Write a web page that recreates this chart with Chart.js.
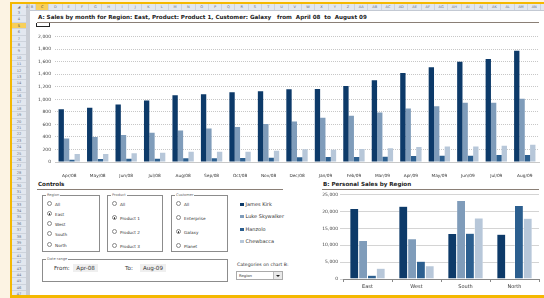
<!DOCTYPE html>
<html><head><meta charset="utf-8">
<script src="https://cdn.jsdelivr.net/npm/chart.js@4/dist/chart.umd.min.js"></script>
<style>
html,body{margin:0;padding:0;}
body{width:544px;height:298px;background:#fcf3e3;position:relative;overflow:hidden;font-family:"DejaVu Sans",sans-serif;}
.abs{position:absolute;}
#sheet{left:12px;top:4px;width:532px;height:292px;background:#fff;}
#topline{left:10px;top:2px;width:534px;height:2px;background:#f4b800;}
#leftline{left:10px;top:2px;width:2px;height:296px;background:#f4b800;}
#botline{left:10px;top:295px;width:534px;height:3px;background:#f4b800;}
#colhdr{left:12px;top:4px;width:532px;height:6px;background:#e2e7ef;border-bottom:1px solid #c3c9d3;}
#rowhdr{left:12px;top:4px;width:14px;height:291px;background:#e2e7ef;}
#strip{left:26px;top:4px;width:4px;height:291px;background:#c9cdd4;}
.col{position:absolute;top:4px;height:6px;font-size:3.6px;line-height:6px;color:#6b7380;text-align:center;border-right:1px solid #cdd3dc;box-sizing:border-box;}
.row{position:absolute;left:12px;width:14px;font-size:3.6px;color:#6b7380;text-align:center;border-bottom:1px solid #cdd3dc;box-sizing:border-box;}
.hl{background:#f7cf5a;color:#444;}
.title{font-weight:bold;font-size:5.6px;color:#222;white-space:pre;}
.rule{height:1px;background:#8a7f76;}
.box{border:1px solid #8c8c8c;box-sizing:border-box;}
.glabel{font-size:3.6px;color:#666;background:#fff;padding:0 1px;white-space:nowrap;}
.opt{font-size:4.2px;color:#333;white-space:nowrap;line-height:5px;}
.rad{display:inline-block;width:3px;height:3px;border:0.6px solid #888;border-radius:50%;vertical-align:middle;margin-right:3px;position:relative;top:-0.5px;background:#fff;}
.rad.on::after{content:"";position:absolute;left:0.7px;top:0.7px;width:1.6px;height:1.6px;border-radius:50%;background:#222;}
.leg{font-size:5px;color:#333;white-space:nowrap;line-height:6px;}
.sq{display:inline-block;width:3.5px;height:3px;margin-right:2px;vertical-align:middle;position:relative;top:-0.5px;}
.dt{font-size:5.6px;color:#333;white-space:nowrap;}
.dtv{background:#efefef;padding:1px 3px;}
</style></head>
<body>
<div class="abs" id="sheet"></div>
<div class="abs" id="colhdr"></div>
<div class="abs" id="rowhdr"></div>
<div class="abs" id="strip"></div>
<div id="cols"></div>
<div id="rows"></div>
<div class="abs" id="topline"></div>
<div class="abs" id="leftline"></div>

<div class="abs title" style="left:38px;top:14px;">A: Sales by month for Region: East, Product: Product 1, Customer: Galaxy   from  April 08  to  August 09</div>
<div class="abs rule" style="left:37px;top:22px;width:502px;"></div>
<div class="abs" style="left:36px;top:23px;width:14px;height:4px;border:1px solid #222;border-top:none;box-sizing:border-box;"></div>

<div class="abs title" style="left:38px;top:181px;">Controls</div>
<div class="abs rule" style="left:37px;top:189px;width:246px;"></div>
<div class="abs title" style="left:323px;top:181px;">B: Personal Sales by Region</div>
<div class="abs rule" style="left:322px;top:189px;width:217px;"></div>

<!-- Region group -->
<div class="abs box" style="left:42px;top:195px;width:58px;height:57px;"></div>
<div class="abs glabel" style="left:46px;top:192.5px;">Region</div>
<div class="abs opt" style="left:47px;top:201.5px;"><span class="rad"></span>All</div>
<div class="abs opt" style="left:47px;top:211.5px;"><span class="rad on"></span>East</div>
<div class="abs opt" style="left:47px;top:221.5px;"><span class="rad"></span>West</div>
<div class="abs opt" style="left:47px;top:231.5px;"><span class="rad"></span>South</div>
<div class="abs opt" style="left:47px;top:242.5px;"><span class="rad"></span>North</div>
<!-- Product group -->
<div class="abs box" style="left:107px;top:195px;width:56px;height:57px;"></div>
<div class="abs glabel" style="left:111px;top:192.5px;">Product</div>
<div class="abs opt" style="left:112px;top:201.5px;"><span class="rad"></span>All</div>
<div class="abs opt" style="left:112px;top:215.5px;"><span class="rad on"></span>Product 1</div>
<div class="abs opt" style="left:112px;top:229.5px;"><span class="rad"></span>Product 2</div>
<div class="abs opt" style="left:112px;top:243.5px;"><span class="rad"></span>Product 3</div>
<!-- Customer group -->
<div class="abs box" style="left:171px;top:195px;width:57px;height:57px;"></div>
<div class="abs glabel" style="left:175px;top:192.5px;">Customer</div>
<div class="abs opt" style="left:176px;top:201.5px;"><span class="rad"></span>All</div>
<div class="abs opt" style="left:176px;top:215.5px;"><span class="rad"></span>Enterprise</div>
<div class="abs opt" style="left:176px;top:229.5px;"><span class="rad on"></span>Galaxy</div>
<div class="abs opt" style="left:176px;top:243.5px;"><span class="rad"></span>Planet</div>

<!-- Legend -->
<div id="legend"></div>

<!-- Date range -->
<div class="abs box" style="left:42px;top:259px;width:186px;height:23px;"></div>
<div class="abs glabel" style="left:46px;top:256.5px;">Date range</div>
<div class="abs dt" style="left:54px;top:265px;">From:&nbsp;&nbsp;<span class="dtv">Apr-08</span></div>
<div class="abs dt" style="left:125px;top:265px;">To:&nbsp;&nbsp;&nbsp;&nbsp;<span class="dtv">Aug-09</span></div>

<div class="abs" style="left:237px;top:262px;font-size:4.6px;color:#333;white-space:nowrap;">Categories on chart B:</div>
<div class="abs" style="left:236px;top:271px;width:47px;height:9px;border:1px solid #aaa;box-sizing:border-box;background:#fff;"></div>
<div class="abs" style="left:239px;top:273px;font-size:3.8px;color:#333;">Region</div>
<div class="abs" style="left:273px;top:272px;width:9px;height:7px;background:#e9e9e9;border-left:1px solid #bbb;box-sizing:border-box;"></div>
<div class="abs" style="left:275.5px;top:274.5px;width:0;height:0;border-left:2px solid transparent;border-right:2px solid transparent;border-top:2px solid #222;"></div>

<canvas id="chartA" class="abs" style="left:20px;top:30px;"></canvas>
<canvas id="chartB" class="abs" style="left:308px;top:190px;"></canvas>
<div class="abs" id="botline"></div>

<script>
// ---- data ----
const months = ['Apr/08','May/08','Jun/08','Jul/08','Aug/08','Sep/08','Oct/08','Nov/08','Dec/08','Jan/09','Feb/09','Mar/09','Apr/09','May/09','Jun/09','Jul/09','Aug/09'];
const jamesKirk = [843,865,918,981,1066,1082,1114,1130,1162,1167,1215,1305,1422,1512,1602,1645,1777];
const lukeSkywalker = [377,398,430,467,504,536,557,605,647,706,737,790,854,891,944,944,1008];
const hanzolo = [37,48,53,53,58,58,64,69,74,80,80,85,95,101,101,111,111];
const chewbacca = [127,127,138,149,164,164,164,180,202,196,207,218,239,249,249,260,276];

const regions = ['East','West','South','North'];
const kirkByRegion = [20900,21600,13500,13300];
const lukeByRegion = [11400,11900,23300,200];
const hanzoloByRegion = [1100,5300,13600,21800];
const chewbaccaByRegion = [3200,3900,18100,18000];

const people = ['James Kirk','Luke Skywalker','Hanzolo','Chewbacca'];
const colors = ['#0d3a69','#7f9cba','#2c5f8f','#b7c7d9'];

// ---- spreadsheet chrome ----
const letters = ['C','D','E','F','G','H','I','J','K','L','M','N','O','P','Q','R','S','T','U','V','W','X','Y','Z','AA','AB','AC','AD','AE','AF','AG','AH','AI','AJ','AK','AL','AM','AN'];
let ch = '<div class="col" style="left:12px;width:14px;border:none;">&#9698;</div><div class="col" style="left:26px;width:3px;">A</div><div class="col" style="left:29px;width:7px;">B</div>';
letters.forEach((l,i)=>{ch += `<div class="col${i===0?' hl':''}" style="left:${(36+i*13.3).toFixed(1)}px;width:13.3px;">${l}</div>`;});
document.getElementById('cols').innerHTML = ch;
let rh='';
for(let r=3;r<=47;r++){const t=10+(r-3)*6.39;rh+=`<div class="row${r===5?' hl':''}" style="top:${t.toFixed(2)}px;height:6.39px;line-height:6.39px;">${r}</div>`;}
document.getElementById('rows').innerHTML = rh;
const legTops=[201,213,226,238];
document.getElementById('legend').innerHTML = people.map((p,i)=>`<div class="abs leg" style="left:240px;top:${legTops[i]}px;"><span class="sq" style="background:${colors[i]}"></span>${p}</div>`).join('');

// ---- charts ----
Chart.defaults.font.family = 'DejaVu Sans';
Chart.defaults.animation = false;
const fmt = v => v.toLocaleString('en-US');

function ds(labels, arrs, bw, cp){
  return {labels, datasets: arrs.map((a,i)=>({label:people[i],data:a,backgroundColor:colors[i],borderColor:'#ffffff',borderWidth:bw,barPercentage:1,categoryPercentage:cp}))};
}

const cA = document.getElementById('chartA');
cA.width=522; cA.height=148; cA.style.width='522px'; cA.style.height='148px';
new Chart(cA,{type:'bar',data:ds(months,[jamesKirk,lukeSkywalker,hanzolo,chewbacca],0,0.75),
 options:{responsive:false,devicePixelRatio:1,animation:false,
  layout:{padding:{top:3,right:3,left:0,bottom:0}},
  plugins:{legend:{display:false},tooltip:{enabled:false}},
  scales:{
   x:{grid:{display:false},border:{display:true,color:'#c8c8c8',width:1},
      ticks:{font:{size:4.3},color:'#333',padding:3,maxRotation:0,autoSkip:false},
      afterFit:s=>{s.height=16;}},
   y:{min:0,max:2000,ticks:{stepSize:200,font:{size:4.5},color:'#444',padding:4,callback:v=>fmt(v)},
      grid:{color:'#b9b9b9',lineWidth:0.8,drawTicks:false},border:{display:false,dash:[1,1]},
      afterFit:s=>{s.width=35;}}
  }}});

const cB = document.getElementById('chartB');
cB.width=234; cB.height=105; cB.style.width='234px'; cB.style.height='105px';
new Chart(cB,{type:'bar',data:ds(regions,[kirkByRegion,lukeByRegion,hanzoloByRegion,chewbaccaByRegion],{left:0.5,right:0.5,top:0.5,bottom:0},0.72),
 options:{responsive:false,devicePixelRatio:1,animation:false,
  layout:{padding:{top:3,right:3,left:0,bottom:0}},
  plugins:{legend:{display:false},tooltip:{enabled:false}},
  scales:{
   x:{grid:{display:true,drawOnChartArea:false,drawTicks:true,tickLength:3,color:'#888',offset:true},
      border:{display:true,color:'#888',width:1},
      ticks:{font:{size:5},color:'#333',padding:2,maxRotation:0},
      afterFit:s=>{s.height=16;}},
   y:{min:0,max:25000,ticks:{stepSize:5000,font:{size:4.5},color:'#444',padding:2,callback:v=>fmt(v)},
      grid:{color:'#d4d4d4',lineWidth:1,drawTicks:true,tickLength:3},border:{display:false},
      afterFit:s=>{s.width=35;}}
  }}});
</script>
</body></html>
